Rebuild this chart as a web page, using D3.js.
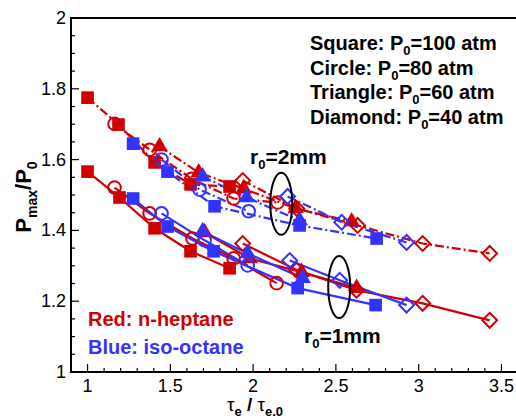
<!DOCTYPE html>
<html>
<head>
<meta charset="utf-8">
<script src="https://cdn.jsdelivr.net/npm/d3@7"></script>
<style>
  body { margin: 0; background: #fff; }
  text { font-family: Arial, "Liberation Sans", sans-serif; }
</style>
</head>
<body>
<div id="viz"></div>
<script>
// values: [tau_e / tau_e0, Pmax / P0]
// r0 = 2mm (dash-dot lines)
var red2Square   = [[1.00, 1.775], [1.187, 1.699], [1.405, 1.592], [1.622, 1.530], [1.858, 1.524]]
var red2Circle   = [[1.163, 1.701], [1.375, 1.628], [1.628, 1.546], [1.882, 1.490], [2.148, 1.479]]
var red2Triangle = [[1.435, 1.637], [1.671, 1.563], [1.943, 1.518], [2.257, 1.462], [2.595, 1.425]]
var red2Diamond  = [[1.937, 1.541], [2.263, 1.462], [2.631, 1.414], [3.024, 1.363], [3.429, 1.335]]
var blue2Square   = [[1.275, 1.645], [1.483, 1.566], [1.767, 1.468], [2.281, 1.414], [2.746, 1.377]]
var blue2Circle   = [[1.447, 1.600], [1.677, 1.515], [1.973, 1.454]]
var blue2Triangle = [[1.695, 1.552], [1.961, 1.493], [2.281, 1.428]]
var blue2Diamond  = [[2.208, 1.496], [2.535, 1.423], [2.927, 1.366]]

// r0 = 1mm (solid lines)
var red1Square   = [[1.00, 1.566], [1.193, 1.493], [1.405, 1.406], [1.622, 1.341], [1.858, 1.293]]
var red1Circle   = [[1.163, 1.521], [1.375, 1.448], [1.634, 1.377], [1.882, 1.321], [2.142, 1.251]]
var red1Triangle = [[1.707, 1.394], [1.979, 1.321], [2.293, 1.282], [2.625, 1.237]]
var red1Diamond  = [[1.937, 1.363], [2.263, 1.288], [2.625, 1.231], [3.024, 1.194], [3.429, 1.146]]
var blue1Square   = [[1.275, 1.490], [1.483, 1.411], [1.761, 1.341], [2.269, 1.237], [2.740, 1.189]]
var blue1Circle   = [[1.447, 1.448], [1.707, 1.372], [1.967, 1.301]]
var blue1Triangle = [[1.695, 1.397], [1.967, 1.335], [2.299, 1.265]]
var blue1Diamond  = [[2.221, 1.315], [2.523, 1.259], [2.927, 1.189]]

var xTicks = [1, 1.5, 2, 2.5, 3, 3.5]
var yTicks = [1, 1.2, 1.4, 1.6, 1.8, 2]
var legendLines = [["Square", "100"], ["Circle", "80"], ["Triangle", "60"], ["Diamond", "40"]]

var RED = "#d00000", BLUE = "#3333ff"

var series = [
    {d: red2Square, c: RED, m: "square", dash: true},
    {d: red2Circle, c: RED, m: "circle", dash: true},
    {d: red2Triangle, c: RED, m: "triangle", dash: true},
    {d: red2Diamond, c: RED, m: "diamond", dash: true},
    {d: blue2Square, c: BLUE, m: "square", dash: true},
    {d: blue2Circle, c: BLUE, m: "circle", dash: true},
    {d: blue2Triangle, c: BLUE, m: "triangle", dash: true},
    {d: blue2Diamond, c: BLUE, m: "diamond", dash: true},
    {d: red1Square, c: RED, m: "square", dash: false},
    {d: red1Circle, c: RED, m: "circle", dash: false},
    {d: red1Triangle, c: RED, m: "triangle", dash: false},
    {d: red1Diamond, c: RED, m: "diamond", dash: false},
    {d: blue1Square, c: BLUE, m: "square", dash: false},
    {d: blue1Circle, c: BLUE, m: "circle", dash: false},
    {d: blue1Triangle, c: BLUE, m: "triangle", dash: false},
    {d: blue1Diamond, c: BLUE, m: "diamond", dash: false}
]

var W = 516, H = 419
var padL = 71, padT = 18, padR = 520, padB = 372

var svg = d3.select("#viz")
    .append("svg")
    .attr("width", W)
    .attr("height", H)

var x = d3.scaleLinear().domain([0.9, 3.612]).range([padL, padR])
var y = d3.scaleLinear().domain([1, 2]).range([padB, padT])

// frame (left, top, bottom; the right side runs off the picture)
svg.append("path")
    .attr("d", "M" + W + "," + padT + "H" + padL + "V" + padB + "H" + W)
    .attr("fill", "none")
    .attr("stroke", "#000")
    .attr("stroke-width", 2)

// ticks, pointing inward
var xMinor = d3.range(10, 36).map(v => v / 10)
var yMinor = d3.range(20, 41).map(v => v / 20)
var isMajor = (list, d) => list.some(t => Math.abs(t - d) < 1e-9)

svg.append("g").selectAll("line")
    .data(xMinor)
    .enter().append("line")
    .attr("x1", d => x(d)).attr("x2", d => x(d))
    .attr("y1", padB).attr("y2", d => isMajor(xTicks, d) ? padB - 8 : padB - 4)
    .attr("stroke", "#000").attr("stroke-width", 1.2)

svg.append("g").selectAll("line")
    .data(yMinor)
    .enter().append("line")
    .attr("y1", d => y(d)).attr("y2", d => y(d))
    .attr("x1", padL).attr("x2", d => isMajor(yTicks, d) ? padL + 8 : padL + 4)
    .attr("stroke", "#000").attr("stroke-width", 1.2)

// tick labels
svg.append("g").selectAll("text")
    .data(xTicks)
    .enter().append("text")
    .attr("x", d => x(d))
    .attr("y", padB + 20)
    .attr("text-anchor", "middle")
    .attr("font-size", 18)
    .text(d => d)

svg.append("g").selectAll("text")
    .data(yTicks)
    .enter().append("text")
    .attr("x", padL - 5)
    .attr("y", d => y(d) + 6)
    .attr("text-anchor", "end")
    .attr("font-size", 18)
    .text(d => d)

// axis titles
var xt = svg.append("text")
    .attr("x", 255).attr("y", 411)
    .attr("text-anchor", "middle")
    .attr("font-size", 19)
xt.append("tspan").text("τ")
xt.append("tspan").attr("font-size", 13).attr("font-weight", "bold").attr("dy", 5).text("e")
xt.append("tspan").attr("font-weight", "bold").attr("dy", -5).text(" / ")
xt.append("tspan").text("τ")
xt.append("tspan").attr("font-size", 13).attr("font-weight", "bold").attr("dy", 5).text("e.0")

var yt = svg.append("text")
    .attr("transform", "translate(31,197) rotate(-90)")
    .attr("text-anchor", "middle")
    .attr("font-size", 22)
    .attr("font-weight", "bold")
yt.append("tspan").text("P")
yt.append("tspan").attr("font-size", 14).attr("dy", 6).text("max")
yt.append("tspan").attr("dy", -6).text("/P")
yt.append("tspan").attr("font-size", 14).attr("dy", 6).text("0")

// lines
var line = d3.line().x(d => x(d[0])).y(d => y(d[1]))

svg.append("g").selectAll("path")
    .data(series)
    .enter().append("path")
    .attr("d", s => line(s.d))
    .attr("fill", "none")
    .attr("stroke", s => s.c)
    .attr("stroke-width", 2.2)
    .attr("stroke-dasharray", s => s.dash ? "9,3,2,3" : null)

// markers
var shapes = {
    square: d3.symbol().type(d3.symbolSquare).size(160),
    triangle: d3.symbol().type(d3.symbolTriangle).size(120),
    circle: d3.symbol().type(d3.symbolCircle).size(125),
    diamond: d3.symbol().type(d3.symbolSquare).size(110)
}

series.forEach(s => {
    var filled = s.m == "square" || s.m == "triangle"
    svg.append("g").selectAll("path")
        .data(s.d)
        .enter().append("path")
        .attr("d", shapes[s.m])
        .attr("transform", d => "translate(" + x(d[0]) + "," + y(d[1]) + ")" + (s.m == "diamond" ? " rotate(45)" : ""))
        .attr("fill", filled ? s.c : "none")
        .attr("stroke", s.c)
        .attr("stroke-width", filled ? 0 : 2)
})

// ellipses around the highlighted points + r0 labels
var rings = [[2.17, 1.475, "2mm", 250, 164], [2.52, 1.24, "1mm", 304, 343]]

rings.forEach(r => {
    svg.append("ellipse")
        .attr("cx", x(r[0])).attr("cy", y(r[1]))
        .attr("rx", 11).attr("ry", 31)
        .attr("fill", "none")
        .attr("stroke", "#000")
        .attr("stroke-width", 2)
    var t = svg.append("text")
        .attr("x", r[3]).attr("y", r[4])
        .attr("font-size", 21)
        .attr("font-weight", "bold")
    t.append("tspan").text("r")
    t.append("tspan").attr("font-size", 13).attr("dy", 5).text("0")
    t.append("tspan").attr("dy", -5).text("=" + r[2])
})

// pressure legend, top right
legendLines.forEach((l, i) => {
    var t = svg.append("text")
        .attr("x", 310).attr("y", 50 + i * 24.5)
        .attr("font-size", 20)
        .attr("font-weight", "bold")
    t.append("tspan").text(l[0] + ": P")
    t.append("tspan").attr("font-size", 13).attr("dy", 5).text("0")
    t.append("tspan").attr("dy", -5).text("=" + l[1] + " atm")
})

// fuel legend
svg.append("text")
    .attr("x", 88).attr("y", 326)
    .attr("font-size", 20).attr("font-weight", "bold")
    .attr("fill", RED)
    .text("Red: n-heptane")

svg.append("text")
    .attr("x", 88).attr("y", 354)
    .attr("font-size", 20).attr("font-weight", "bold")
    .attr("fill", BLUE)
    .text("Blue: iso-octane")
</script>
</body>
</html>
